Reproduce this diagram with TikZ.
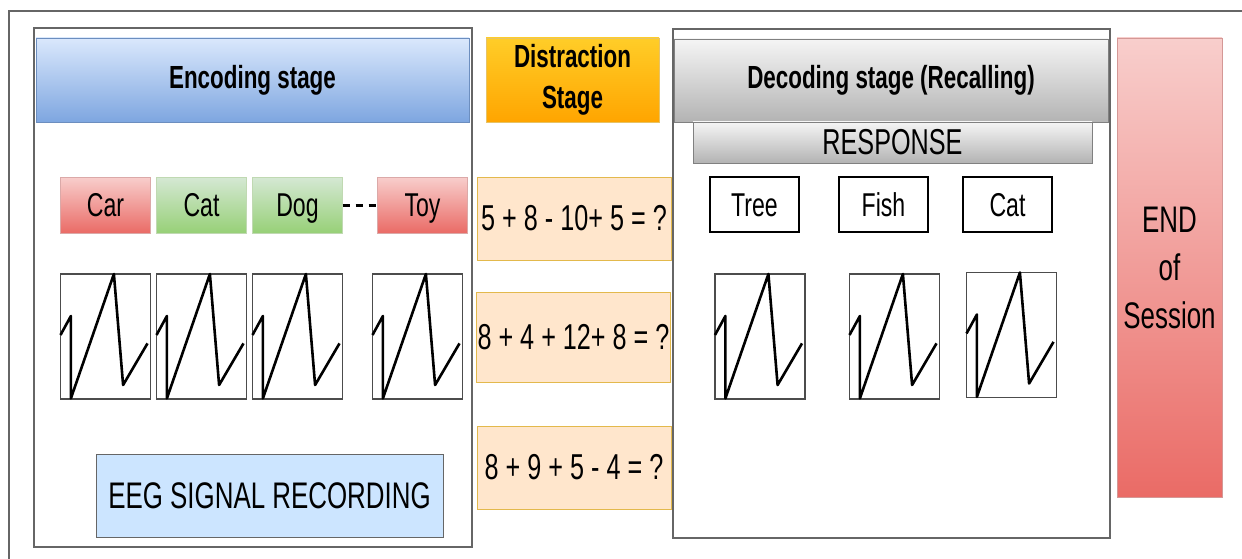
\documentclass[tikz,border=0pt]{standalone}
\usepackage{fontspec}
\setmainfont{Liberation Sans}[FakeStretch=0.7]
\usepackage{tikz}
\usetikzlibrary{positioning}

\definecolor{encTop}{HTML}{DAE8FC}
\definecolor{encBot}{HTML}{7EA6E0}
\definecolor{encLine}{HTML}{6C8EBF}
\definecolor{disTop}{HTML}{FFCD28}
\definecolor{disBot}{HTML}{FFA500}
\definecolor{disLine}{HTML}{D79B00}
\definecolor{decTop}{HTML}{F5F5F5}
\definecolor{decBot}{HTML}{B3B3B3}
\definecolor{decLine}{HTML}{808080}
\definecolor{redTop}{HTML}{F8CECC}
\definecolor{redBot}{HTML}{EA6B66}
\definecolor{redLine}{HTML}{B85450}
\definecolor{grnTop}{HTML}{D5E8D4}
\definecolor{grnBot}{HTML}{97D077}
\definecolor{grnLine}{HTML}{82B366}
\definecolor{eqFill}{HTML}{FFE6CC}
\definecolor{eegFill}{HTML}{CCE5FF}

% one saw-tooth trace inside a signal box
\newcommand{\sawwave}[1]{%
  \draw[wave] ([shift={(0,61)}]#1.north west) -- ++(10.4,-19) -- ++(0,82.4)
    -- ++(43,-124.4) -- ++(9.2,111) -- ++(24.4,-41.6);}

\begin{document}
\begin{tikzpicture}[x=1pt, y=-1pt,
      node distance=6pt,
      frame/.style={draw=black!60, line width=1.3pt, inner sep=0pt, outer sep=0pt},
      base/.style={draw, line width=0.8pt, inner sep=0pt, outer sep=0pt, align=center},
      header/.style={base, font=\fontsize{32}{41}\selectfont\bfseries},
      enchead/.style={header, draw=encLine, top color=encTop, bottom color=encBot},
      dishead/.style={header, draw=disLine!60, top color=disTop, bottom color=disBot},
      dechead/.style={header, draw=decLine, top color=decTop, bottom color=decBot},
      word/.style={base, minimum width=90pt, minimum height=56pt,
                   text height=26pt, text depth=2.4pt,
                   font=\fontsize{33}{40}\selectfont},
      redword/.style={word, draw=redLine!50, top color=redTop, bottom color=redBot},
      grnword/.style={word, draw=grnLine!50, top color=grnTop, bottom color=grnBot},
      answer/.style={word, draw=black, line width=1.2pt, minimum width=89pt, minimum height=55pt},
      sigbox/.style={base, draw=black!70, line width=1.4pt, minimum width=90pt, minimum height=125pt},
      wave/.style={line width=2.6pt, line join=round},
      sum/.style={base, draw=disLine!70, fill=eqFill, minimum width=194pt,
                  font=\fontsize{36}{40}\selectfont},
    ]
    \useasboundingbox (0,0) rectangle (1242,559);
    \draw[frame] (9,559) -- (9,11) -- (1242,11);

    % encoding stage
    \node[frame, minimum width=438pt, minimum height=519pt] (enc-frame) at (253,287.5) {};
    \node[enchead, minimum width=433pt, minimum height=84pt] (enc-head) at (252.5,80) {Encoding stage};
    \node[redword] (car) at (105.5,205) {Car};
    \node[grnword] (cat) [right=of car] {Cat};
    \node[grnword] (dog) [right=of cat] {Dog};
    \node[redword] (toy) [right=35pt of dog] {Toy};
    \draw[line width=3pt, dash pattern=on 7pt off 6pt] (dog) -- (toy);

    \node[sigbox] (sig-car) [below=41pt of car] {};
    \node[sigbox] (sig-cat) [below=41pt of cat] {};
    \node[sigbox] (sig-dog) [below=41pt of dog] {};
    \node[sigbox] (sig-toy) [below=41pt of toy, xshift=-5pt] {};
    \foreach \s in {sig-car, sig-cat, sig-dog, sig-toy}
      {\sawwave{\s}}

    \node[base, draw=black!60, fill=eegFill, minimum width=347pt, minimum height=83pt,
          font=\fontsize{37}{40}\selectfont] (eeg) at (269.5,495.5) {EEG SIGNAL RECORDING};

    % distraction stage
    \node[dishead, minimum width=173pt, minimum height=84pt] (dis-head) at (572.5,80) {Distraction\\Stage};
    \node[sum, minimum height=83pt] (sum-a) at (574,218.5) {5 + 8 - 10+ 5 = ?};
    \node[sum, minimum height=90pt] (sum-b) at (573.5,337) {8 + 4 + 12+ 8 = ?};
    \node[sum, minimum height=83pt] (sum-c) at (574,467.5) {8 + 9 + 5 - 4 = ?};

    % decoding stage
    \node[frame, minimum width=437pt, minimum height=509pt] (dec-frame) at (891.5,283.5) {};
    \node[dechead, minimum width=434pt, minimum height=83pt] (dec-head) at (891,80.5) {Decoding stage (Recalling)};
    \node[base, draw=decLine, top color=decTop, bottom color=decBot, minimum width=399pt,
          minimum height=41pt, font=\fontsize{36}{40}\selectfont] (response) at (892.5,142.5) {RESPONSE};
    \node[answer] (tree) at (754.5,204.5) {Tree};
    \node[answer] (fish) at (883.5,204.5) {Fish};
    \node[answer] (cat-b) at (1007.5,204.5) {Cat};

    \node[sigbox] (sig-tree) at (760,336.5) {};
    \node[sigbox] (sig-fish) at (894.5,336.5) {};
    \node[sigbox] (sig-catb) at (1011.5,335) {};
    \foreach \s in {sig-tree, sig-fish, sig-catb}
      {\sawwave{\s}}

    % end of session
    \node[base, draw=redLine!60, top color=redTop, bottom color=redBot, minimum width=105pt,
          minimum height=459pt, font=\fontsize{37}{48}\selectfont] (end) at (1169.5,267.5) {END\\of\\Session};
  \end{tikzpicture}
\end{document}
